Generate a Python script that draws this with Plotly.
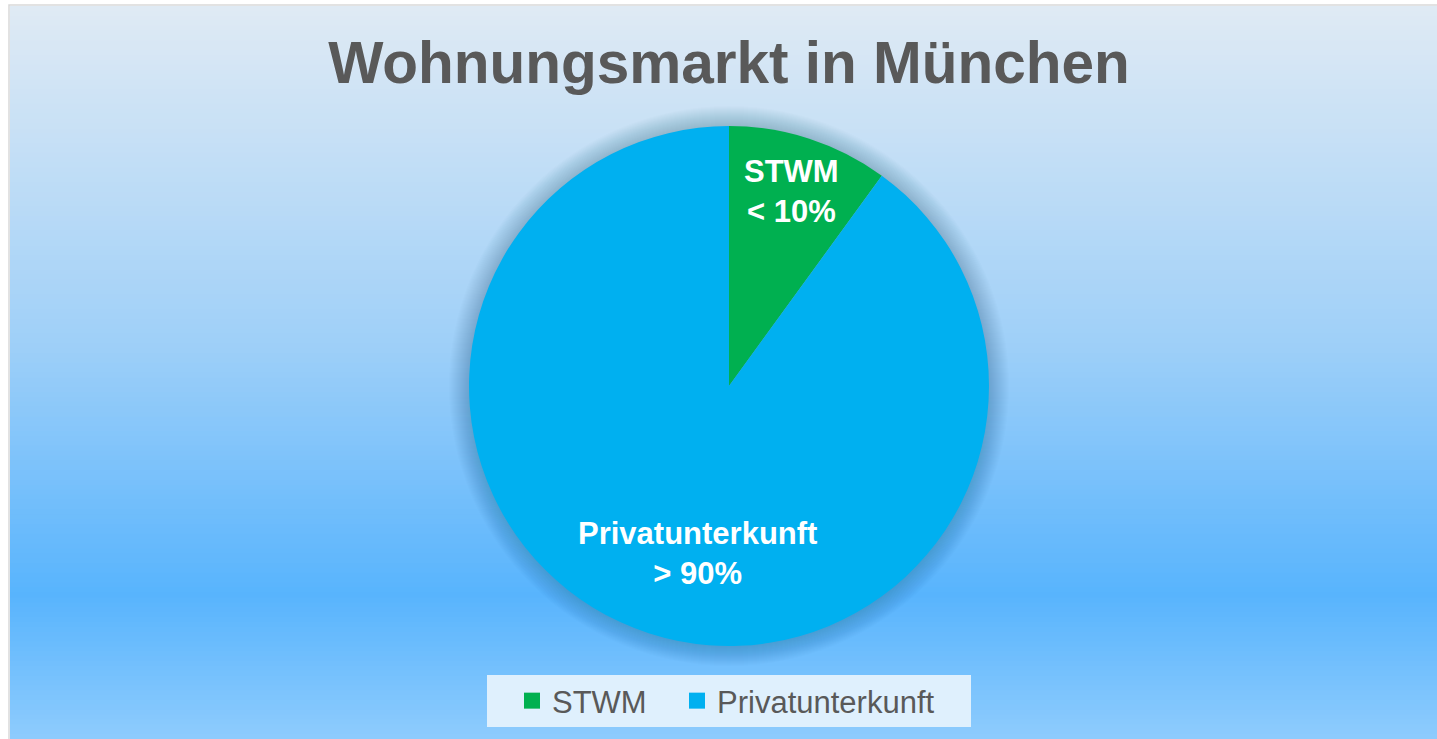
import plotly.graph_objects as go
import numpy as np

# ---- data ----
labels = ["STWM", "Privatunterkunft"]
values = [10, 90]
slice_text = ["STWM<br>&lt; 10%", "Privatunterkunft<br>&gt; 90%"]
colors = ["#00B050", "#00B0F0"]
title_text = "Wohnungsmarkt in München"

W, H = 1437, 739
cx, cy, R = 729, 386, 260  # pie centre / radius in px
label_pos_px = [(791, 191), (697, 553)]  # label anchor positions (layout)
legend_x_px = [512, 677]                 # legend entry positions (layout)
FONT = "Liberation Sans, Arial"

fig = go.Figure()
fig.add_trace(go.Pie(
    labels=labels, values=values, textinfo="none",
    marker=dict(colors=colors, line=dict(width=0)),
    sort=False, direction="clockwise", rotation=0,
    domain=dict(x=[(cx - R) / W, (cx + R) / W], y=[(H - cy - R) / H, (H - cy + R) / H]),
    hoverinfo="label+percent", showlegend=False,
))
# legend entries (square swatches), one legend box per entry
legend_names = ["legend", "legend2"]
for lab, c, lg in zip(labels, colors, legend_names):
    fig.add_trace(go.Scatter(x=[None], y=[None], mode="markers", name=lab, legend=lg,
                             marker=dict(symbol="square", size=16, color=c), hoverinfo="skip"))

annotations = []
for txt, (px, py) in zip(slice_text, label_pos_px):
    annotations.append(dict(text="<b>" + txt + "</b>", x=px / W, y=1 - py / H, xref="paper", yref="paper",
                            xanchor="center", yanchor="middle", showarrow=False, align="center",
                            font=dict(family=FONT, size=31, color="white")))

# background gradient (decoration)
stops = [(0.0, (223, 234, 244)), (0.45, (160, 208, 248)), (0.80, (88, 180, 253)), (1.0, (143, 204, 253))]
def col(t):
    for (a, ca), (b, cb) in zip(stops[:-1], stops[1:]):
        if a <= t <= b:
            f = (t - a) / (b - a)
            return "rgb(%d,%d,%d)" % tuple(round(ca[i] + (cb[i] - ca[i]) * f) for i in range(3))
    return "rgb(%d,%d,%d)" % stops[-1][1]

shapes = []
x0, y0top = 10, 6
n = 150
ys = np.linspace(y0top, H, n + 1)
for i in range(n):
    t = (ys[i] - y0top) / (H - y0top)
    shapes.append(dict(type="rect", xref="paper", yref="paper", layer="below",
                       x0=x0 / W, x1=1.0, y0=0, y1=1 - ys[i] / H,
                       fillcolor=col(t), line=dict(width=0)))
# border of chart area
shapes.append(dict(type="rect", xref="paper", yref="paper", layer="below",
                   x0=(x0 - 1) / W, x1=1.01, y0=-0.01, y1=1 - (y0top - 1) / H,
                   fillcolor="rgba(0,0,0,0)", line=dict(width=1.5, color="#d9d9d9")))
# soft shadow around pie
for k in range(20, 0, -1):
    r = R + k
    shapes.append(dict(type="circle", xref="paper", yref="paper", layer="below",
                       x0=(cx - r) / W, x1=(cx + r) / W, y0=(H - cy - r) / H, y1=(H - cy + r) / H,
                       fillcolor="rgba(40,70,110,0.013)", line=dict(width=0)))
# legend box
shapes.append(dict(type="rect", xref="paper", yref="paper", layer="below",
                   x0=487 / W, x1=971 / W, y0=1 - 727 / H, y1=1 - 675 / H,
                   fillcolor="#dff0fd", line=dict(width=0)))

legend_common = dict(orientation="h", xanchor="left", y=1 - 701 / H, yanchor="middle",
                     bgcolor="rgba(0,0,0,0)", font=dict(family=FONT, size=31, color="#595959"))

fig.update_layout(
    width=W, height=H, margin=dict(l=0, r=0, t=0, b=0),
    paper_bgcolor="white", plot_bgcolor="rgba(0,0,0,0)",
    xaxis=dict(visible=False), yaxis=dict(visible=False),
    shapes=shapes, annotations=annotations,
    title=dict(text="<b>" + title_text + "</b>", x=cx / W, xanchor="center", y=1 - 63 / H, yanchor="middle",
               font=dict(family=FONT, size=58.5, color="#595959")),
    showlegend=True,
    legend=dict(x=legend_x_px[0] / W, **legend_common),
    legend2=dict(x=legend_x_px[1] / W, **legend_common),
)

fig.write_html("out.html")
